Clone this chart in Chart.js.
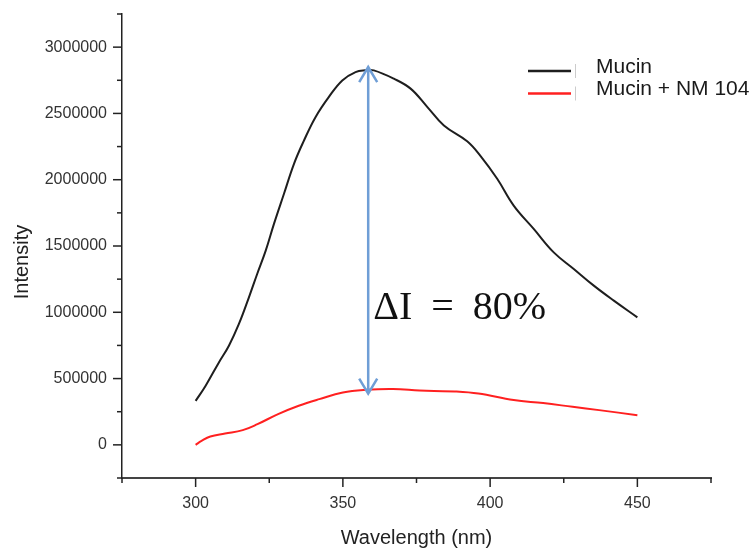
<!DOCTYPE html>
<html>
<head>
<meta charset="utf-8">
<script src="https://cdn.jsdelivr.net/npm/chart.js@4"></script>
<style>
  html, body { margin: 0; padding: 0; background: #fff; }
</style>
</head>
<body>
<canvas id="spectrumCanvas" width="753" height="550"></canvas>
<script>
// emission spectra (wavelength nm, intensity)
const mucinWavelength = [300, 303.4, 307.9, 311.3, 314.7, 318.1, 320.9, 323.8, 326.6, 330, 333.4, 336.8, 340.7, 345.2, 349.8, 354.3, 357.7, 360.5, 367.3, 373, 378.7, 384.3, 392.2, 396.7, 402.4, 408, 414.8, 421.6, 428.4, 435.2, 442, 450];
const mucinIntensity = [332000, 446000, 622000, 748000, 912000, 1113000, 1289000, 1465000, 1667000, 1894000, 2120000, 2296000, 2472000, 2623000, 2749000, 2812000, 2825000, 2825000, 2762000, 2687000, 2548000, 2409000, 2290000, 2180000, 2007000, 1805000, 1629000, 1452000, 1327000, 1201000, 1088000, 962000];

const nmWavelength = [300, 302, 305, 310, 316, 321, 328, 335, 342, 350, 358, 367, 376, 381, 388, 396, 408, 418, 428, 437, 450];
const nmIntensity = [0, 30000, 63000, 85000, 111000, 156000, 232000, 295000, 345000, 395000, 415000, 421000, 410000, 406000, 403000, 387000, 338000, 315000, 287000, 262000, 224000];

const seriesLabels = ['Mucin', 'Mucin + NM 104'];
const xTickLabels = [300, 350, 400, 450];
const yTickLabels = [0, 500000, 1000000, 1500000, 2000000, 2500000, 3000000];

// the double arrow between the two maxima and its note
const arrowWavelength = 358.6;
const arrowFrom = 2850000;
const arrowTo = 387000;
const deltaNote = 'ΔI = 80%';
const deltaNoteAt = [360.3, 952000];

function toPoints(xs, ys) {
    return xs.map((x, i) => ({ x: x, y: ys[i] }));
}

const decorations = {
    id: 'decorations',
    afterDraw(chart) {
        const ctx = chart.ctx;
        const xScale = chart.scales.x;
        const yScale = chart.scales.y;
        const area = chart.chartArea;
        ctx.save();

        // outward tick marks, long on labelled values
        ctx.strokeStyle = '#222';
        ctx.lineWidth = 1.5;
        yScale.ticks.forEach(t => {
            const y = yScale.getPixelForValue(t.value);
            const len = yTickLabels.includes(t.value) ? 9 : 5;
            ctx.beginPath();
            ctx.moveTo(area.left - len, y);
            ctx.lineTo(area.left, y);
            ctx.stroke();
        });
        xScale.ticks.forEach(t => {
            const x = xScale.getPixelForValue(t.value);
            const len = xTickLabels.includes(t.value) ? 9 : 5;
            ctx.beginPath();
            ctx.moveTo(x, area.bottom);
            ctx.lineTo(x, area.bottom + len);
            ctx.stroke();
        });

        // axis titles
        ctx.fillStyle = '#222';
        ctx.font = '20px "Liberation Sans", Arial, sans-serif';
        ctx.textAlign = 'center';
        ctx.textBaseline = 'middle';
        ctx.fillText('Wavelength (nm)', (area.left + area.right) / 2, 538);
        ctx.save();
        ctx.translate(22, 262);
        ctx.rotate(-Math.PI / 2);
        ctx.fillText('Intensity', 0, 0);
        ctx.restore();

        // double-headed arrow
        const ax = xScale.getPixelForValue(arrowWavelength);
        const top = yScale.getPixelForValue(arrowFrom);
        const bottom = yScale.getPixelForValue(arrowTo);
        ctx.strokeStyle = '#6f9ed6';
        ctx.lineWidth = 2.5;
        ctx.beginPath();
        ctx.moveTo(ax, top);
        ctx.lineTo(ax, bottom);
        ctx.moveTo(ax - 9, top + 15);
        ctx.lineTo(ax, top);
        ctx.lineTo(ax + 9, top + 15);
        ctx.moveTo(ax - 9, bottom - 15);
        ctx.lineTo(ax, bottom);
        ctx.lineTo(ax + 9, bottom - 15);
        ctx.stroke();

        ctx.fillStyle = '#111';
        ctx.font = '40px "Liberation Serif", "Times New Roman", serif';
        ctx.wordSpacing = '9px';
        ctx.textAlign = 'left';
        ctx.textBaseline = 'alphabetic';
        ctx.fillText(deltaNote, xScale.getPixelForValue(deltaNoteAt[0]), yScale.getPixelForValue(deltaNoteAt[1]));
        ctx.wordSpacing = '0px';

        // legend in the upper right corner
        ctx.font = '21px "Liberation Sans", Arial, sans-serif';
        chart.data.datasets.forEach((ds, i) => {
            const y = 71 + i * 22.5;
            ctx.strokeStyle = ds.borderColor;
            ctx.lineWidth = 2.5;
            ctx.beginPath();
            ctx.moveTo(528, y);
            ctx.lineTo(571, y);
            ctx.stroke();
            ctx.strokeStyle = '#ccc';
            ctx.lineWidth = 1;
            ctx.beginPath();
            ctx.moveTo(575.5, y - 7);
            ctx.lineTo(575.5, y + 7);
            ctx.stroke();
            ctx.fillStyle = '#1a1a1a';
            ctx.fillText(ds.label, 596, y + 1.5);
        });

        ctx.restore();
    }
};

const chart = new Chart(document.getElementById('spectrumCanvas'), {
    type: 'line',
    data: {
        datasets: [{
            label: seriesLabels[0],
            data: toPoints(mucinWavelength, mucinIntensity),
            borderColor: '#1e1e1e',
            borderWidth: 2,
            pointRadius: 0,
            tension: 0.4,
            fill: false
        }, {
            label: seriesLabels[1],
            data: toPoints(nmWavelength, nmIntensity),
            borderColor: '#ff2020',
            borderWidth: 2,
            pointRadius: 0,
            tension: 0.4,
            fill: false
        }]
    },
    options: {
        responsive: false,
        animation: false,
        layout: { padding: { top: 14, right: 42, left: 0, bottom: 0 } },
        plugins: {
            legend: { display: false },
            tooltip: { enabled: false }
        },
        scales: {
            x: {
                type: 'linear',
                min: 275,
                max: 475,
                border: { color: '#444', width: 2 },
                grid: { drawOnChartArea: false, drawTicks: false },
                ticks: {
                    stepSize: 25,
                    autoSkip: false,
                    maxRotation: 0,
                    padding: 16,
                    color: '#333',
                    font: { size: 16, family: '"Liberation Sans", Arial, sans-serif' },
                    callback: v => xTickLabels.includes(v) ? String(v) : ''
                },
                afterFit: scale => {
                    scale.height = 72;
                    scale.paddingLeft = 0;
                    scale.paddingRight = 0;
                }
            },
            y: {
                min: -250000,
                max: 3250000,
                border: { color: '#222', width: 1.5 },
                grid: { drawOnChartArea: false, drawTicks: false },
                ticks: {
                    stepSize: 250000,
                    autoSkip: false,
                    padding: 15,
                    color: '#333',
                    font: { size: 16, family: '"Liberation Sans", Arial, sans-serif' },
                    callback: v => yTickLabels.includes(v) ? String(v) : ''
                },
                afterFit: scale => {
                    scale.width = 122;
                    scale.paddingTop = 0;
                    scale.paddingBottom = 0;
                }
            }
        }
    },
    plugins: [decorations]
});
</script>
</body>
</html>
